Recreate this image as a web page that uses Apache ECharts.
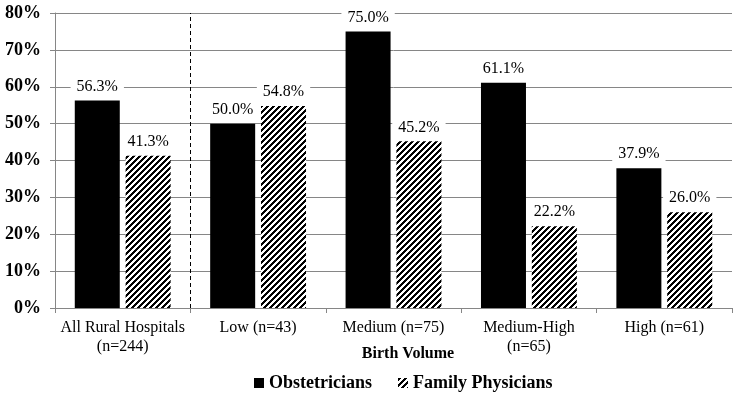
<!DOCTYPE html>
<html>
<head>
<meta charset="utf-8">
<script src="https://cdn.jsdelivr.net/npm/echarts@6/dist/echarts.min.js"></script>
<style>html,body{margin:0;padding:0;background:#fff}#c{width:750px;height:415px}</style>
</head>
<body>
<div id="c"></div>
<script>
const categories = ['All Rural Hospitals\n(n=244)', 'Low (n=43)', 'Medium (n=75)', 'Medium-High\n(n=65)', 'High (n=61)'];
const obstetricians = [56.3, 50.0, 75.0, 61.1, 37.9];
const familyPhysicians = [41.3, 54.8, 45.2, 22.2, 26.0];
const seriesNames = ['Obstetricians', 'Family Physicians'];
const axisTitle = 'Birth Volume';
const yMin = 0, yMax = 80, yStep = 10;
const dividerAfter = 1; // dashed divider after the first category

function hatch() {
  const s = 6;
  const cv = document.createElement('canvas');
  cv.width = s; cv.height = s;
  const ctx = cv.getContext('2d');
  const img = ctx.createImageData(s, s);
  for (let y = 0; y < s; y++) for (let x = 0; x < s; x++) {
    const i = (y * s + x) * 4;
    const v = ((x + y) % s) < 3 ? 0 : 255;
    img.data[i] = v; img.data[i+1] = v; img.data[i+2] = v; img.data[i+3] = 255;
  }
  ctx.putImageData(img, 0, 0);
  return cv;
}
const pattern = { image: hatch(), repeat: 'repeat' };
const font = 'Liberation Serif';
const grey = '#868686';

const labelCfg = {
  show: true, position: 'top', distance: 5,
  color: '#000', fontFamily: font, fontSize: 16,
  backgroundColor: '#fff', padding: [1, 6],
  formatter: p => p.value.toFixed(1) + '%'
};

const chart = echarts.init(document.getElementById('c'), null, { renderer: 'canvas' });
chart.setOption({
  animation: false,
  backgroundColor: '#fff',
  grid: { left: 55, right: 18, top: 13, bottom: 107, containLabel: false },
  legend: {
    data: seriesNames, top: 369, left: 249,
    itemWidth: 10, itemHeight: 10, itemGap: 26,
    icon: 'rect',
    textStyle: { fontFamily: font, fontWeight: 'bold', fontSize: 18, color: '#000' }
  },
  graphic: [{
    type: 'text', x: 408, y: 354,
    style: { text: axisTitle, align: 'center', verticalAlign: 'middle', fontFamily: font, fontWeight: 'bold', fontSize: 16, fill: '#000' }
  }],
  xAxis: [{
    type: 'category', data: categories,
    axisLine: { show: true, lineStyle: { color: grey, width: 1 } },
    axisTick: { show: true, length: 5, lineStyle: { color: grey } },
    axisLabel: { margin: 10, fontFamily: font, fontSize: 16, color: '#000', lineHeight: 19, interval: 0 },
    splitLine: { show: false }
  }, {
    type: 'value', min: 0, max: categories.length, show: false
  }],
  yAxis: {
    type: 'value', min: yMin, max: yMax, interval: yStep,
    axisLine: { show: true, lineStyle: { color: grey, width: 1 } },
    axisTick: { show: true, length: 5, lineStyle: { color: grey } },
    axisLabel: { margin: 14, fontFamily: font, fontWeight: 'bold', fontSize: 18, color: '#000', formatter: v => v + '%' },
    splitLine: { show: true, lineStyle: { color: grey, width: 1 } }
  },
  series: [
    { name: seriesNames[0], type: 'bar', data: obstetricians, barWidth: 45, barGap: '13%',
      itemStyle: { color: '#000' }, label: labelCfg },
    { name: seriesNames[1], type: 'bar', data: familyPhysicians, barWidth: 45,
      itemStyle: { color: pattern }, label: labelCfg },
    { name: 'divider', type: 'line', xAxisIndex: 1, data: [], silent: true,
      markLine: { symbol: 'none', silent: true, label: { show: false },
        lineStyle: { color: '#000', type: [4, 3], width: 1 },
        data: [{ xAxis: dividerAfter }] } }
  ]
});
</script>
</body>
</html>
